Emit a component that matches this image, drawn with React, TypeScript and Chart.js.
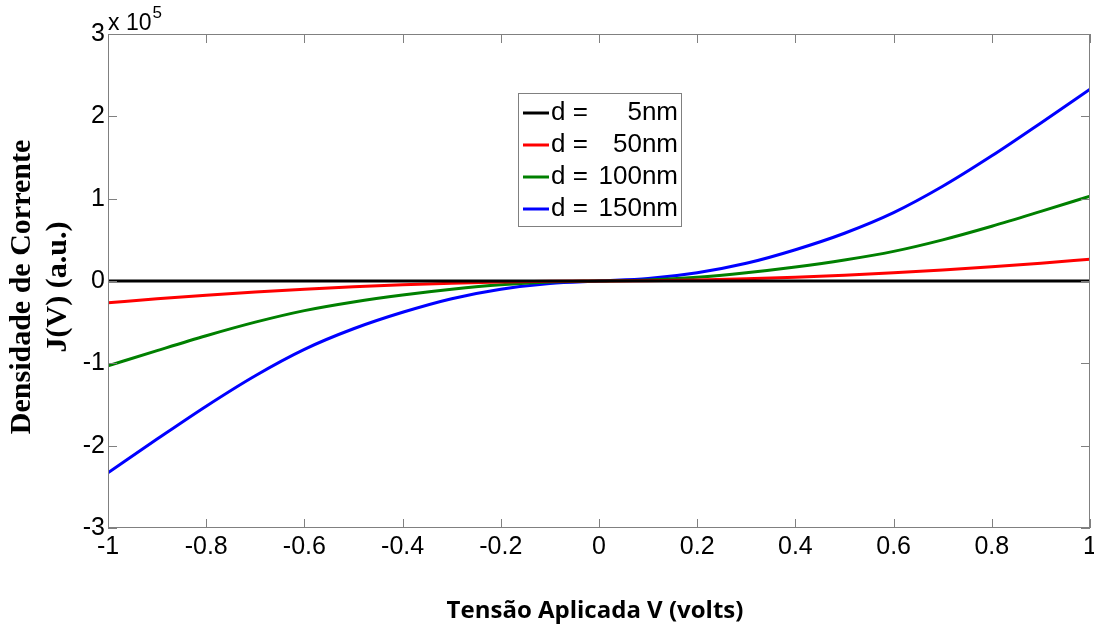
import React, { useEffect, useRef } from "react";
import { Chart, registerables } from "chart.js";

Chart.register(...registerables);

// Applied voltage samples (V)
const voltages = [
  -1, -0.9, -0.8, -0.7, -0.6, -0.5, -0.4, -0.3, -0.2, -0.1, 0,
  0.1, 0.2, 0.3, 0.4, 0.5, 0.6, 0.7, 0.8, 0.9, 1,
];

// Current density J(V), in units of 1e5 (a.u.)
const j5nm = [
  0, 0, 0, 0, 0, 0, 0, 0, 0, 0, 0,
  0, 0, 0, 0, 0, 0, 0, 0, 0, 0,
];
const j50nm = [
  -0.265, -0.216, -0.172, -0.133, -0.099, -0.07, -0.046, -0.027, -0.013, -0.004, 0,
  0.004, 0.013, 0.027, 0.046, 0.07, 0.099, 0.133, 0.172, 0.216, 0.265,
];
const j100nm = [
  -1.03, -0.845, -0.665, -0.5, -0.36, -0.255, -0.17, -0.1, -0.045, -0.012, 0,
  0.012, 0.045, 0.1, 0.17, 0.255, 0.36, 0.5, 0.665, 0.845, 1.03,
];
const j150nm = [
  -2.33, -1.92, -1.52, -1.15, -0.83, -0.58, -0.38, -0.215, -0.1, -0.03, 0,
  0.03, 0.1, 0.215, 0.38, 0.58, 0.83, 1.15, 1.52, 1.92, 2.33,
];

const thicknessLabels = ["5nm", "50nm", "100nm", "150nm"];
const seriesColors = ["#000000", "#ff0000", "#008000", "#0000ff"];
const seriesValues = [j5nm, j50nm, j100nm, j150nm];

const xTicks = [-1, -0.8, -0.6, -0.4, -0.2, 0, 0.2, 0.4, 0.6, 0.8, 1];
const yTicks = [-3, -2, -1, 0, 1, 2, 3];

const AXIS_GRAY = "#808080";

// Box around the plot, inward ticks on all four sides, exponent note,
// axis titles and the legend.
const decorations = {
  id: "decorations",
  afterDatasetsDraw(chart: any) {
    const { ctx, chartArea } = chart;
    const { left, right, top, bottom } = chartArea;
    const xs = chart.scales.x;
    const ys = chart.scales.y;
    const tick = 9;

    ctx.save();
    ctx.strokeStyle = AXIS_GRAY;
    ctx.lineWidth = 1;
    ctx.strokeRect(left + 0.5, top + 0.5, right - left - 1, bottom - top - 1);

    ctx.beginPath();
    xTicks.forEach((v) => {
      const px = Math.round(xs.getPixelForValue(v)) + 0.5;
      ctx.moveTo(px, bottom);
      ctx.lineTo(px, bottom - tick);
      ctx.moveTo(px, top);
      ctx.lineTo(px, top + tick);
    });
    yTicks.forEach((v) => {
      const py = Math.round(ys.getPixelForValue(v)) + 0.5;
      ctx.moveTo(left, py);
      ctx.lineTo(left + tick, py);
      ctx.moveTo(right, py);
      ctx.lineTo(right - tick, py);
    });
    ctx.stroke();

    // exponent note
    ctx.fillStyle = "#000";
    ctx.textBaseline = "alphabetic";
    ctx.textAlign = "left";
    ctx.font = "23px 'Liberation Sans', Arial, sans-serif";
    ctx.fillText("x 10", left, top - 4);
    const w = ctx.measureText("x 10").width;
    ctx.font = "17px 'Liberation Sans', Arial, sans-serif";
    ctx.fillText("5", left + w + 1, top - 16);

    // y-axis title
    ctx.save();
    ctx.translate(40, (top + bottom) / 2 + 6);
    ctx.rotate(-Math.PI / 2);
    ctx.textAlign = "center";
    ctx.textBaseline = "middle";
    ctx.font = "bold 30px 'Liberation Serif', 'Times New Roman', serif";
    ctx.fillText("Densidade de Corrente", 0, -18);
    ctx.fillText("J(V) (a.u.)", 0, 18);
    ctx.restore();

    // x-axis title
    ctx.textAlign = "center";
    ctx.textBaseline = "alphabetic";
    ctx.font = "bold 24px 'Open Sans', Lato, sans-serif";
    ctx.fillText("Tensão Aplicada V (volts)", 595, 618);

    // legend
    const bx = 518, by = 93, bw = 163, bh = 133;
    ctx.fillStyle = "#fff";
    ctx.fillRect(bx, by, bw, bh);
    ctx.strokeStyle = AXIS_GRAY;
    ctx.lineWidth = 1;
    ctx.strokeRect(bx + 0.5, by + 0.5, bw, bh);
    ctx.font = "26px 'Liberation Sans', Arial, sans-serif";
    ctx.textBaseline = "middle";
    thicknessLabels.forEach((lab, i) => {
      const cy = by + 20 + i * 32;
      ctx.strokeStyle = seriesColors[i];
      ctx.lineWidth = 3;
      ctx.beginPath();
      ctx.moveTo(bx + 5, cy);
      ctx.lineTo(bx + 31, cy);
      ctx.stroke();
      ctx.fillStyle = "#000";
      ctx.textAlign = "left";
      ctx.fillText("d =", bx + 33, cy);
      ctx.textAlign = "right";
      ctx.fillText(lab, bx + bw - 3, cy);
    });
    ctx.restore();
  },
};

export default function App() {
  const canvasRef = useRef<HTMLCanvasElement | null>(null);

  useEffect(() => {
    const canvas = canvasRef.current;
    if (!canvas) return;

    const datasets = seriesValues.map((vals, i) => ({
      label: "d = " + thicknessLabels[i],
      data: voltages.map((v, k) => ({ x: v, y: vals[k] })),
      borderColor: seriesColors[i],
      backgroundColor: seriesColors[i],
      borderWidth: 3,
      pointRadius: 0,
      cubicInterpolationMode: "monotone" as const,
      fill: false,
    }));

    const chart = new Chart(canvas, {
      type: "line",
      data: { datasets },
      plugins: [decorations],
      options: {
        animation: false,
        responsive: false,
        devicePixelRatio: 1,
        layout: { padding: { left: 0, right: 4, top: 34, bottom: 0 } },
        plugins: {
          legend: { display: false },
          tooltip: { enabled: false },
        },
        scales: {
          x: {
            type: "linear",
            min: -1,
            max: 1,
            border: { display: false },
            grid: { display: false, drawTicks: false },
            afterBuildTicks: (s: any) => {
              s.ticks = xTicks.map((v) => ({ value: v }));
            },
            afterFit: (s: any) => {
              s.height = 100;
              s.paddingLeft = 0;
              s.paddingRight = 0;
            },
            ticks: {
              autoSkip: false,
              maxRotation: 0,
              padding: 4,
              color: "#000",
              font: { family: "'Liberation Sans', Arial, sans-serif", size: 25 },
              callback: (v: any) => String(Number(Number(v).toFixed(1))),
            },
          },
          y: {
            type: "linear",
            min: -3,
            max: 3,
            border: { display: false },
            grid: { display: false, drawTicks: false },
            afterBuildTicks: (s: any) => {
              s.ticks = yTicks.map((v) => ({ value: v }));
            },
            afterFit: (s: any) => {
              s.width = 108;
              s.paddingTop = 0;
              s.paddingBottom = 0;
            },
            ticks: {
              autoSkip: false,
              padding: 3,
              color: "#000",
              font: { family: "'Liberation Sans', Arial, sans-serif", size: 25 },
              callback: (v: any) => String(v),
            },
          },
        },
      },
    });

    return () => chart.destroy();
  }, []);

  return (
    <div style={{ position: "fixed", left: 0, top: 0, width: 1094, height: 628, background: "#fff" }}>
      <canvas ref={canvasRef} width={1094} height={628} style={{ display: "block" }} />
    </div>
  );
}
